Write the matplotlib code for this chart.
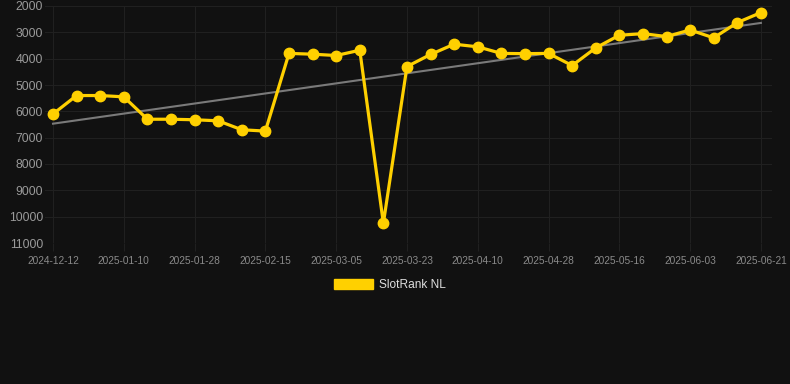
import numpy as np
import matplotlib
matplotlib.use('Agg')
import matplotlib.pyplot as plt
from matplotlib.patches import Patch

plt.rcParams['font.family'] = ['Liberation Sans', 'DejaVu Sans']

# rank per observation (lower is better, axis is inverted)
ranks = [6100, 5400, 5400, 5450, 6300, 6300, 6320, 6360, 6700, 6750,
         3800, 3830, 3880, 3680, 10250, 4300, 3840, 3450, 3550, 3800,
         3810, 3800, 4260, 3590, 3110, 3050, 3160, 2910, 3210, 2630, 2250]
tick_labels = ['2024-12-12', '2025-01-10', '2025-01-28', '2025-02-15', '2025-03-05',
               '2025-03-23', '2025-04-10', '2025-04-28', '2025-05-16', '2025-06-03',
               '2025-06-21']
y_ticks = [2000, 3000, 4000, 5000, 6000, 7000, 8000, 9000, 10000, 11000]
series_name = 'SlotRank NL'

bg = '#111111'
gold = '#FFD000'
grid = '#202020'

x = np.arange(len(ranks))

fig = plt.figure(figsize=(7.9, 3.84), dpi=100, facecolor=bg)
ax = fig.add_axes([45 / 790, (384 - 243) / 384, (772 - 45) / 790, (243 - 6) / 384])
ax.set_facecolor(bg)

# trend line
coef = np.polyfit(x, ranks, 1)
ax.plot(x, np.polyval(coef, x), color='#7a7a7a', lw=1.5, zorder=2)

ax.plot(x, ranks, color=gold, lw=2.3, marker='o', markersize=7.5,
        markerfacecolor=gold, markeredgecolor=gold, zorder=3, clip_on=False)

ax.set_ylim(11000, 2000)
ax.set_xlim(-0.34, 30.47)
ax.set_yticks(y_ticks)
ax.set_yticklabels([str(v) for v in y_ticks])
ax.set_xticks(x[::3])
ax.set_xticklabels(tick_labels)

for s in ax.spines.values():
    s.set_visible(False)
ax.grid(True, color=grid, lw=0.8)
ax.set_axisbelow(True)
ax.tick_params(axis='y', length=0, pad=1.5, labelsize=8.8, labelcolor='#9a9a9a')
ax.tick_params(axis='x', length=6, color=grid, pad=3, labelsize=7.3, labelcolor='#8a8a8a')

fig.legend(handles=[Patch(facecolor=gold, edgecolor=gold, label=series_name)],
           loc='center', bbox_to_anchor=(390 / 790, (384 - 285) / 384),
           frameon=False, fontsize=8.6, labelcolor='#dddddd',
           handlelength=3.3, handleheight=0.9, handletextpad=0.5)

fig.savefig('out.png', dpi=100, facecolor=bg)
